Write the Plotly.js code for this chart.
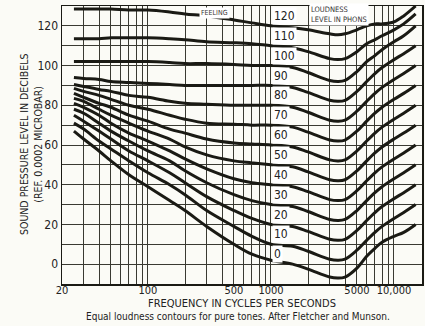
<!DOCTYPE html>
<html>
<head>
<meta charset="utf-8">
<script src="https://cdn.plot.ly/plotly-3.0.1.min.js"></script>
<style>html,body{margin:0;padding:0;background:#fbfbf6;}#chart{width:425px;height:326px;}</style>
</head>
<body>
<div id="chart"></div>
<script>
const freq = [25, 30, 40, 50, 70, 100, 150, 200, 300, 500, 700, 1000, 1500, 2000, 3000, 3500, 4000, 5000, 6000, 7000, 8000, 10000, 12000, 15000];
const phonLevels = [0, 10, 20, 30, 40, 50, 60, 70, 80, 90, 100, 110, 120];
const phon0   = [67, 63, 57, 52, 45, 39, 32, 27, 19, 10, 5, 2, 0, -2.5, -6.5, -7, -6.5, -2, 4, 8, 11, 14, 16, 20];
const phon10  = [71, 68, 62, 58, 52, 46, 40, 35, 27, 19, 14, 10, 9, 6.5, 2.5, 2, 2.5, 7, 12, 16, 19, 23, 26, 30];
const phon20  = [75, 72, 67, 63, 57, 52, 46, 41, 34, 27, 23, 20, 19, 16.5, 12.5, 12, 12.5, 17, 22, 26, 29, 33, 36, 40];
const phon30  = [78, 76, 71, 67, 62, 57, 52, 47, 41, 35, 32, 30, 29, 26.5, 22.5, 22, 22.5, 27, 32, 36, 39, 43, 46, 50];
const phon40  = [81, 79, 75, 71, 66, 62, 57, 53, 48, 43, 41, 40, 39, 36.5, 32.5, 32, 32.5, 37, 42, 46, 49, 53, 56, 60];
const phon50  = [83.5, 82, 78, 75, 71, 67, 63, 59, 55, 52, 51, 50, 49, 46.5, 42.5, 42, 42.5, 47, 52, 56, 59, 63, 66, 70];
const phon60  = [86, 84, 81, 79, 75, 72, 68, 66, 63, 61, 60.5, 60, 59, 56.5, 52.5, 52, 52.5, 57, 62, 66, 69, 73, 76, 80];
const phon70  = [88.5, 87, 85, 83, 80, 78, 75, 73, 71, 70.5, 70, 70, 69, 66.5, 62.5, 62, 62.5, 67, 72, 76, 79, 83, 86, 90];
const phon80  = [90.5, 89.5, 88, 87, 85, 84, 82, 81, 80.5, 80, 80, 80, 79, 76.5, 72.5, 72, 72.5, 77, 82, 86, 89, 93, 96, 100];
const phon90  = [94, 93.5, 93, 92, 91.5, 91, 90.5, 90, 90, 90, 90, 90, 89, 86.5, 82.5, 82, 82.5, 87, 92, 96, 99, 103, 106, 110];
const phon100 = [102, 102, 102, 102, 102, 102, 101.5, 101, 101, 100.5, 100, 100, 99, 96.5, 92.5, 92, 92.5, 97, 102, 105, 108, 112, 115, 120];
const phon110 = [113.5, 113.5, 113.5, 114, 114, 114, 113.5, 113, 112, 111.5, 111, 110, 109, 107, 103.5, 103, 103.5, 107, 111, 113, 115, 118, 121, 126];
const phon120 = [128.5, 128.5, 128.5, 128.5, 128, 128, 127, 126, 125, 123, 121.5, 120, 119, 118, 116, 115.5, 116, 118, 120, 121, 121, 122, 125, 130];
const curves = [phon0, phon10, phon20, phon30, phon40, phon50, phon60, phon70, phon80, phon90, phon100, phon110, phon120];

const xGrid = [20,30,40,50,60,70,80,90,100,200,300,400,500,600,700,800,900,1000,2000,3000,4000,5000,6000,7000,8000,9000,10000];
const xLabels = {20:"20",100:"100",500:"500",1000:"1000",5000:"5000",10000:"10,000"};
const yGrid = [0,10,20,30,40,50,60,70,80,90,100,110,120];
const yLabels = {0:"0",20:"20",40:"40",60:"60",80:"80",100:"100",120:"120"};

const FONT = "'Liberation Sans Narrow', 'DejaVu Sans Condensed', 'Roboto Condensed', sans-serif";

const traces = curves.map((ys, i) => ({
  x: freq, y: ys, type: 'scatter', mode: 'lines',
  line: {color: '#1a1a14', width: 3, shape: 'spline', smoothing: 1},
  hoverinfo: 'skip', showlegend: false
}));

const annotations = phonLevels.map(p => ({
  x: Math.log10(1000), y: p + 5, xref: 'x', yref: 'y', text: String(p),
  showarrow: false, xanchor: 'left', yanchor: 'middle', xshift: 1,
  bgcolor: '#ffffff', borderpad: 1,
  font: {family: FONT, size: 12, color: '#222'}
}));
annotations.push({
  x: Math.log10(350), y: 126.5, xref: 'x', yref: 'y', text: 'FEELING', showarrow: false,
  xanchor: 'center', yanchor: 'middle', bgcolor: '#ffffff',
  font: {family: FONT, size: 7, color: '#333'}
});
annotations.push({
  x: Math.log10(2000), y: 125.5, xref: 'x', yref: 'y', text: 'LOUDNESS<br>LEVEL IN PHONS', showarrow: false,
  xanchor: 'left', yanchor: 'middle', align: 'left', xshift: 1, bgcolor: '#ffffff',
  font: {family: FONT, size: 7.5, color: '#333'}
});
// x-axis title
annotations.push({
  x: 0.5, y: -0.071, xref: 'paper', yref: 'paper', text: 'FREQUENCY IN CYCLES PER SECONDS',
  showarrow: false, xanchor: 'center', yanchor: 'middle',
  font: {family: FONT, size: 11, color: '#222'}
});
// caption
annotations.push({
  x: 0.49, y: -0.118, xref: 'paper', yref: 'paper', text: 'Equal loudness contours for pure tones. After Fletcher and Munson.',
  showarrow: false, xanchor: 'center', yanchor: 'middle',
  font: {family: FONT, size: 10, color: '#222'}
});
// y-axis title
annotations.push({
  x: -0.086, y: 0.5, xref: 'paper', yref: 'paper', text: 'SOUND PRESSURE LEVEL IN DECIBELS<br>(REF. 0.0002 MICROBAR)',
  showarrow: false, xanchor: 'center', yanchor: 'middle', textangle: -90,
  font: {family: FONT, size: 10.5, color: '#222'}
});

const layout = {
  width: 425, height: 326,
  margin: {l: 62, r: 3, t: 6, b: 42},
  paper_bgcolor: '#fbfbf6', plot_bgcolor: '#fbfbf6',
  showlegend: false,
  xaxis: {
    type: 'log', range: [Math.log10(20), Math.log10(16900)],
    tickmode: 'array', tickvals: xGrid, ticktext: xGrid.map(v => xLabels[v] || ''),
    ticks: '', ticklen: 0, showgrid: true, gridcolor: '#3a3a32', gridwidth: 1,
    showline: true, mirror: true, linecolor: '#1a1a14', linewidth: 1.5,
    zeroline: false, tickangle: 0, ticklabelstandoff: -5,
    tickfont: {family: FONT, size: 11, color: '#222'}
  },
  yaxis: {
    range: [-10, 130],
    tickmode: 'array', tickvals: yGrid, ticktext: yGrid.map(v => yLabels[v] !== undefined ? yLabels[v] : ''),
    ticks: '', showgrid: true, gridcolor: '#3a3a32', gridwidth: 1,
    showline: true, mirror: true, linecolor: '#1a1a14', linewidth: 1.5,
    zeroline: false,
    tickfont: {family: FONT, size: 12, color: '#222'}
  },
  annotations: annotations
};

Plotly.newPlot('chart', traces, layout, {displayModeBar: false, staticPlot: true});
</script>
</body>
</html>
